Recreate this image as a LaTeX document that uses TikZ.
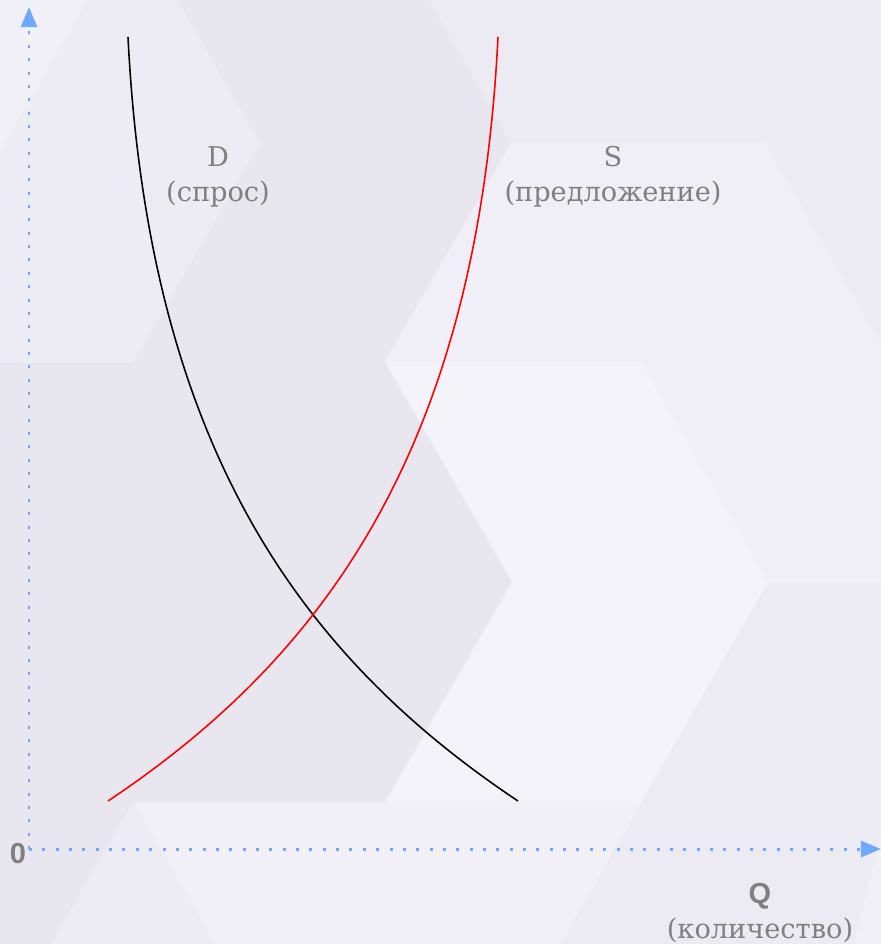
\documentclass[tikz,border=0pt]{standalone}
\usepackage{fontspec}
\setmainfont{DejaVu Serif}
\newfontfamily\axisfont{Liberation Sans}
\usetikzlibrary{arrows.meta}

\definecolor{hexbase}{HTML}{E8E7EF}
\definecolor{hexmid}{HTML}{ECEBF3}
\definecolor{hexA}{HTML}{EDECF4}
\definecolor{hexcorner}{HTML}{F1F0F7}
\definecolor{hexB}{HTML}{F0EFF7}
\definecolor{hexF}{HTML}{EDECF4}
\definecolor{hexH}{HTML}{F1F0F7}
\definecolor{hexL}{HTML}{F4F3F9}
\definecolor{axisblue}{RGB}{110,168,255}
\definecolor{labelgray}{RGB}{128,128,128}

% flat-top hexagon of the backdrop, radius 254px
\newcommand{\hexcell}[3]{%
  \fill[#1] (#2+254,#3) -- (#2+127,#3+220) -- (#2-127,#3+220) -- (#2-254,#3)
    -- (#2-127,#3-220) -- (#2+127,#3-220) -- cycle;}

\begin{document}
\begin{tikzpicture}[
    x=0.02cm, y=-0.02cm,
    axis/.style={draw=axisblue, line width=1.7pt, dash pattern=on 1.7pt off 5.9pt,
      -{Triangle[length=11.4pt, width=9pt]}},
    demand/.style={draw=black, line width=0.9pt},
    supply/.style={draw=red, line width=0.9pt},
    caption/.style={font=\fontsize{15.5}{20}\selectfont, text=labelgray, align=center, inner sep=0pt},
    axislabel/.style={font=\axisfont\bfseries\fontsize{16.5}{20}\selectfont, text=labelgray, inner sep=0pt}
]
  \useasboundingbox (0,0) rectangle (881,944);
  % --- backdrop: overlapping pale hexagons ---------------------------------
  \begin{scope}
    \clip (0,0) rectangle (881,944);
    \fill[hexbase] (0,0) rectangle (881,944);
    \hexcell{hexmid}{638}{-77}
    \hexcell{hexmid}{1019}{143}
    \fill[hexmid] (767,582) -- (900,582) -- (900,960) -- (540,960) -- (640,802) -- cycle;
    \hexcell{hexA}{6}{143}
    \hexcell{hexcorner}{-164}{-5}
    \fill[hexB] (384,363) -- (511,143) -- (765,143) -- (892,363) -- (892,583) -- (511,583) -- cycle;
    \hexcell{hexF}{260}{1022}
    \hexcell{hexH}{388}{802}
    \fill[hexH] (886,815) -- (900,815) -- (900,960) -- (850,960) -- cycle;
    \hexcell{hexL}{514}{582}
    \hexcell{hexbase}{258}{582}
  \end{scope}
  % --- axes ----------------------------------------------------------------
  \coordinate (origin) at (29,849);
  \coordinate (ytop) at (29,7);
  \coordinate (xend) at (881,849);
  \draw[axis] (origin) -- (ytop);
  \draw[axis] (origin) -- (xend);
  \node[axislabel] (zero) at (18,854) {0};
  \node[caption] (qty) at (760,913) {{\axisfont\bfseries\fontsize{16.5}{20}\selectfont Q}\\(количество)};
  % --- demand and supply ---------------------------------------------------
  \coordinate (Dtop) at (128,37);
  \coordinate (Dend) at (518,801);
  \coordinate (Stop) at (498,37);
  \coordinate (Send) at (108,801);
  \draw[demand] (Dtop) .. controls (148,437) and (293,651) .. (Dend);
  \draw[supply] (Stop) .. controls (478,437) and (333,651) .. (Send);
  \node[caption] (lblD) at (218,177) {D\\(спрос)};
  \node[caption] (lblS) at (613,177) {S\\(предложение)};
\end{tikzpicture}
\end{document}
